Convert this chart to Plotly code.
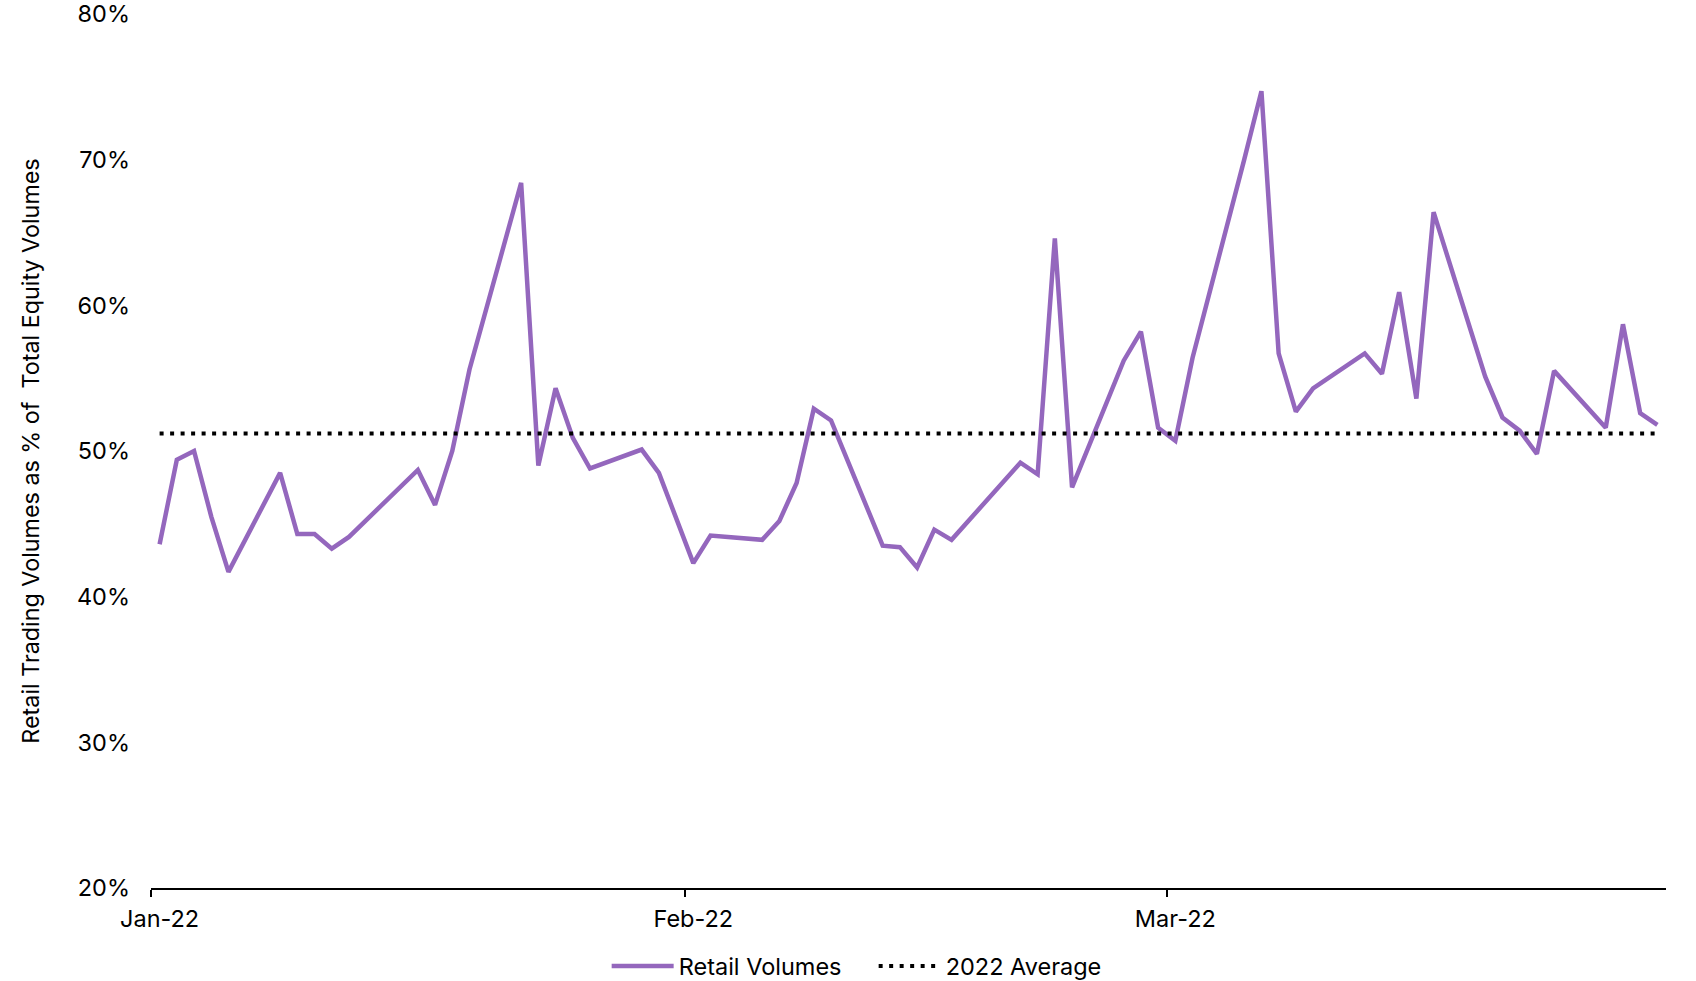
import plotly.graph_objects as go

dates = [
    "2022-01-03", "2022-01-04", "2022-01-05", "2022-01-06", "2022-01-07",
    "2022-01-10", "2022-01-11", "2022-01-12", "2022-01-13", "2022-01-14",
    "2022-01-18", "2022-01-19", "2022-01-20", "2022-01-21",
    "2022-01-24", "2022-01-25", "2022-01-26", "2022-01-27", "2022-01-28",
    "2022-01-31", "2022-02-01", "2022-02-02", "2022-02-03", "2022-02-04",
    "2022-02-07", "2022-02-08", "2022-02-09", "2022-02-10", "2022-02-11",
    "2022-02-14", "2022-02-15", "2022-02-16", "2022-02-17", "2022-02-18",
    "2022-02-22", "2022-02-23", "2022-02-24", "2022-02-25",
    "2022-02-28", "2022-03-01", "2022-03-02", "2022-03-03", "2022-03-04",
    "2022-03-07", "2022-03-08", "2022-03-09", "2022-03-10", "2022-03-11",
    "2022-03-14", "2022-03-15", "2022-03-16", "2022-03-17", "2022-03-18",
    "2022-03-21", "2022-03-22", "2022-03-23", "2022-03-24", "2022-03-25",
    "2022-03-28", "2022-03-29", "2022-03-30", "2022-03-31",
]

retail_volumes = [
    43.6, 49.4, 50.0, 45.5, 41.7,
    48.5, 44.3, 44.3, 43.3, 44.1,
    48.7, 46.3, 50.0, 55.6,
    68.4, 49.0, 54.3, 50.9, 48.8,
    50.1, 48.5, 45.4, 42.3, 44.2,
    43.9, 45.2, 47.8, 52.9, 52.1,
    43.5, 43.4, 42.0, 44.6, 43.9,
    49.2, 48.4, 64.6, 47.5,
    56.2, 58.2, 51.6, 50.7, 56.4,
    70.0, 74.7, 56.7, 52.7, 54.3,
    56.7, 55.3, 60.9, 53.6, 66.4,
    55.1, 52.3, 51.4, 49.8, 55.5,
    51.6, 58.7, 52.6, 51.8,
]

average_2022 = 51.2

y_ticks = [20, 30, 40, 50, 60, 70, 80]
y_tick_labels = ["20%", "30%", "40%", "50%", "60%", "70%", "80%"]
month_ticks = ["2022-01-02 12:00", "2022-02-02 12:00", "2022-03-02 12:00"]
month_label_pos = ["2022-01-03", "2022-02-03", "2022-03-03"]
month_labels = ["Jan-22", "Feb-22", "Mar-22"]

x_range = ["2022-01-02 12:00", "2022-03-31 12:00"]

FONT = "Inter"
TICK_SIZE = 23.5

fig = go.Figure()
fig.add_trace(go.Scatter(
    x=dates, y=retail_volumes, mode="lines", name="Retail Volumes",
    line=dict(color="#9467bd", width=4.5),
))
fig.add_trace(go.Scatter(
    x=dates, y=[average_2022] * len(dates), mode="lines", name="2022 Average",
    line=dict(color="#000000", width=4, dash="4px,6.5px"),
))
# invisible trace to drive the label axis
fig.add_trace(go.Scatter(
    x=dates, y=retail_volumes, xaxis="x2", mode="lines",
    line=dict(width=0), showlegend=False, hoverinfo="skip", opacity=0,
))

fig.update_layout(
    width=1696, height=981,
    paper_bgcolor="white", plot_bgcolor="white",
    margin=dict(l=151, r=30, t=14, b=93, autoexpand=False),
    font=dict(family=FONT, size=TICK_SIZE, color="#000000"),
    showlegend=True,
    legend=dict(
        orientation="h", x=0.477, xanchor="center", y=-0.0895, yanchor="middle",
        font=dict(family=FONT, size=TICK_SIZE, color="#000000"),
        itemwidth=62, entrywidth=190, entrywidthmode="pixels",
    ),
    xaxis=dict(
        type="date", range=x_range, automargin=False,
        tickvals=month_ticks, showticklabels=False,
        ticks="outside", ticklen=7, tickwidth=2, tickcolor="#000000",
        showline=True, linecolor="#000000", linewidth=2,
        showgrid=False, zeroline=False,
    ),
    xaxis2=dict(
        type="date", range=x_range, overlaying="x", anchor="y", side="bottom",
        automargin=False,
        tickvals=month_label_pos, ticktext=month_labels,
        ticks="", showline=False, showgrid=False, zeroline=False,
        tickfont=dict(family=FONT, size=TICK_SIZE, color="#000000"),
        ticklabelstandoff=14, ticklabeloverflow="allow",
    ),
    yaxis=dict(
        range=[20, 80], tickvals=y_ticks, ticktext=y_tick_labels,
        automargin=False,
        showgrid=False, zeroline=False, showline=False, ticks="",
        tickfont=dict(family=FONT, size=TICK_SIZE, color="#000000"),
        ticklabelstandoff=20, ticklabeloverflow="allow",
        title=dict(text="Retail Trading Volumes as % of  Total Equity Volumes",
                   font=dict(family=FONT, size=23.3, color="#000000"), standoff=30),
    ),
)

fig.write_html(
    "out.html",
    config={"displayModeBar": False},
    post_script="document.body.style.margin='0';document.body.style.overflow='hidden';",
)
